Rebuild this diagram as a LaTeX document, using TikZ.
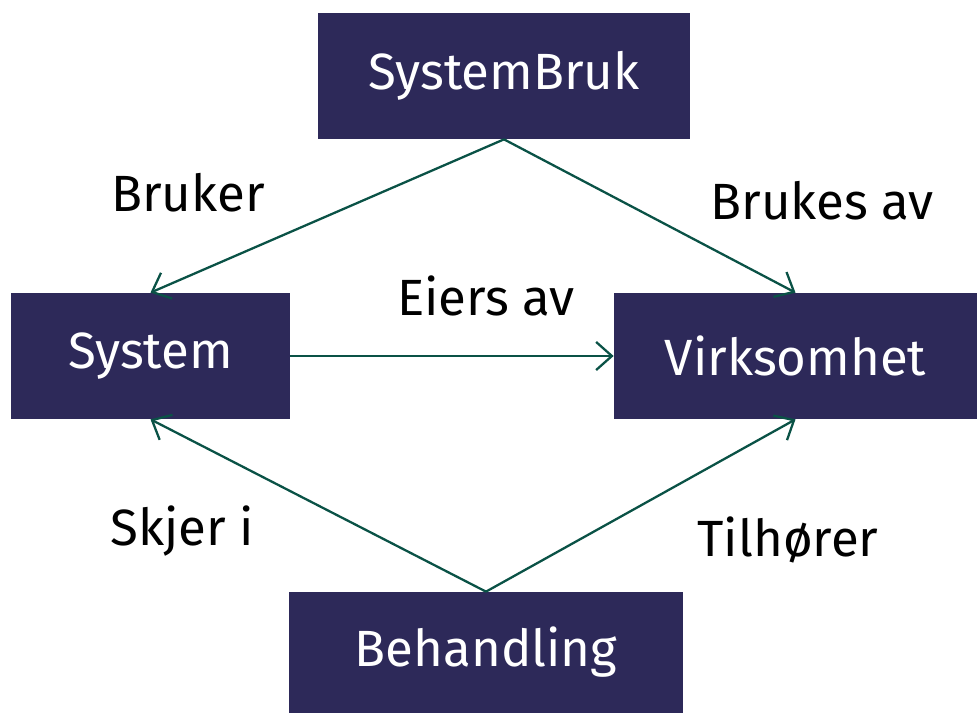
\documentclass[tikz,border=0pt]{standalone}
\usepackage{fontspec}
\setmainfont{Fira Sans}
\usepackage{tikz}
\usetikzlibrary{arrows.meta, positioning}
\definecolor{boxnavy}{RGB}{45, 41, 89}
\definecolor{linkgreen}{RGB}{10, 82, 70}

\begin{document}
\begin{tikzpicture}[x=0.2mm, y=-0.2mm,
    entity/.style={fill=boxnavy, text=white, minimum height=2.52cm, inner sep=0pt,
      font=\fontsize{29}{34}\selectfont},
    rel/.style={draw=linkgreen, line width=1.3pt, -{Straight Barb[length=9pt, width=16pt, line width=1.3pt]}},
    lbl/.style={font=\fontsize{29}{34}\selectfont, text=black}]
  \useasboundingbox (0, 0) rectangle (978, 713);

  % Entities
  \node[entity, minimum width=7.44cm] (bruk) at (504, 76) {SystemBruk};
  \node[entity, minimum width=5.58cm] (system) at (150.5, 356) {System};
  \node[entity, minimum width=7.26cm] (virk) at (795.5, 356) {Virksomhet};
  \node[entity, minimum width=7.88cm, minimum height=2.42cm] (behandling) at (486, 652.5) {Behandling};

  % Relations
  \draw[rel] (bruk.south) -- (system.north);
  \draw[rel] (bruk.south) -- (virk.north);
  \draw[rel] (system.east) -- (virk.west);
  \draw[rel] (behandling.north) -- (system.south);
  \draw[rel] (behandling.north) -- (virk.south);

  % Relation labels
  \node[lbl] (lbruker) at (188, 193) {Bruker};
  \node[lbl] (lbrukes) at (822, 201) {Brukes av};
  \node[lbl] (leiers) at (486, 296) {Eiers av};
  \node[lbl] (lskjer) at (182, 531) {Skjer i};
  \node[lbl] (ltilh) at (788, 540) {Tilhører};
\end{tikzpicture}
\end{document}
